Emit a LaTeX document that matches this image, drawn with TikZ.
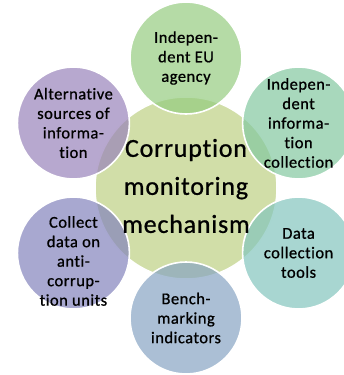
\documentclass[tikz,border=0pt]{standalone}
\usepackage{fontspec}
\setmainfont{Carlito}[Ligatures=NoCommon,LetterSpace=3,FakeBold=0.8]
\usetikzlibrary{positioning}

\definecolor{hubgreen}{RGB}{209,222,168}
\definecolor{agencygreen}{RGB}{149,204,128}
\definecolor{collectmint}{RGB}{131,200,160}
\definecolor{toolsteal}{RGB}{131,197,189}
\definecolor{benchblue}{RGB}{135,164,195}
\definecolor{unitsblue}{RGB}{131,131,188}
\definecolor{sourcespurple}{RGB}{153,131,186}

\newcommand\nd{130pt}

\begin{document}
\begin{tikzpicture}[
			x=1pt, y=-1pt,
			hub/.style={circle,fill=hubgreen,draw=white,line width=1.5pt,minimum size=182pt,inner sep=0pt},
			petal/.style={circle,draw=white,line width=1.6pt,fill opacity=0.7,minimum size=112pt,inner sep=0pt},
			lbl/.style={align=center,inner sep=0pt,font=\fontsize{16.5}{19.5}\selectfont},
			hublbl/.style={align=center,inner sep=0pt,font=\fontsize{26}{38}\selectfont}
		]
		\useasboundingbox (0,0) rectangle (344,375);
		\clip (0,0) rectangle (344,375);

		\node [hub] (v0) at (186,188) {};
		% the six circles round the hub
		\node [petal,fill=agencygreen] (v1) at ([shift=({90:\nd})]v0) {};
		\node [petal,fill=collectmint] (v2) at ([shift=({30:\nd})]v0) {};
		\node [petal,fill=toolsteal] (v3) at ([shift=({-30:\nd})]v0) {};
		\node [petal,fill=benchblue] (v4) at ([shift=({-90:\nd})]v0) {};
		\node [petal,fill=unitsblue] (v5) at ([shift=({-150:\nd})]v0) {};
		\node [petal,fill=sourcespurple] (v6) at ([shift=({150:\nd})]v0) {};

		\node [hublbl] (t0) at ([shift=({90:2pt})]v0) {Corruption\\monitoring\\mechanism};
		\node [lbl] (t1) at (v1) {Indepen-\\dent EU\\agency};
		\node [lbl] (t2) at (v2) {Indepen-\\dent\\informa-\\tion\\collection};
		\node [lbl] (t3) at (v3) {Data\\collection\\tools};
		\node [lbl] (t4) at (v4) {Bench-\\marking\\indicators};
		\node [lbl] (t5) at ([shift=({-90:8pt})]v5) {Collect\\data on\\anti-\\corrup-\\tion units};
		\node [lbl] (t6) at (v6) {Alternative\\sources of\\informa-\\tion};
	\end{tikzpicture}
\end{document}
